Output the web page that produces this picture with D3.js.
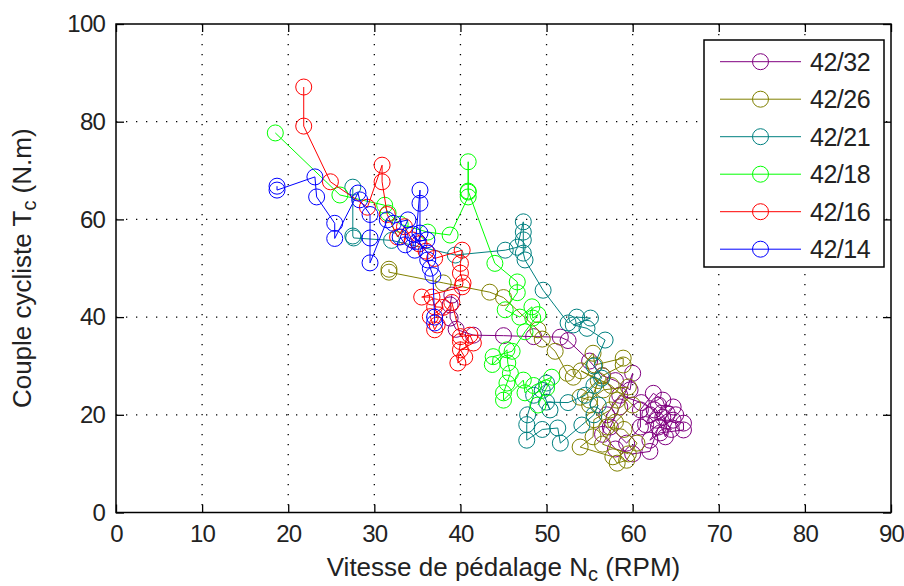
<!DOCTYPE html>
<html>
<head>
<meta charset="utf-8">
<script src="https://cdn.jsdelivr.net/npm/d3@7"></script>
<style>
  body { margin: 0; background: #fff; }
  svg text { font-family: 'Liberation Sans', Arial, sans-serif; fill: #222; }
</style>
</head>
<body>
<svg id="chart" width="904" height="586"></svg>
<script>
// series data: [rpm, torque] pairs
const s42_32 = [[39.0,44.5],[38.8,42.5],[38.8,39.8],[39.5,37.5],[41.5,36.3],[45,36.2],[48.5,36],[51.6,35.9],[52.5,35.2],[55,31],[56.5,28],[58,27],[59.7,25.1],[60,28.5],[58.5,21.6],[57.4,17.5],[59.3,14.2],[60.9,17.5],[60.9,21],[62.4,24.4],[63.5,23],[64,20.3],[62.8,18.9],[64.7,18.9],[65.9,18.3],[65.9,16.9],[63.2,16.3],[62,14.8],[64.7,21.6],[63,22],[62,20],[61.5,18],[63.5,19.5],[64.5,17],[63,17.5],[62,12.5],[60,12],[58,13],[56.5,16],[57,20],[58.5,24],[61,22.5],[62.5,21],[63.8,15.5],[65,20]];
const s42_26 = [[31.7,49.8],[31.7,49.2],[38,47],[43.4,45.1],[45,44],[49,37.4],[49.5,35.5],[51,33],[52.4,28.5],[53.1,27.7],[55.4,32.6],[55.6,30.2],[58.9,31.6],[58.9,30.2],[56.5,28],[53.9,23.6],[55,23],[56.6,25.1],[59.5,25.7],[58.2,23],[57.4,21],[55.5,19],[55.4,15.5],[53.9,13.4],[57.7,11.4],[58.2,10.1],[59.3,10.7],[60.5,14.2],[59,17],[57,17.5],[55,22],[56,27],[54,29],[57.5,26],[60,22],[58,18.5],[56.5,14],[59.5,12]];
const s42_21 = [[27.5,66.6],[27.5,56.6],[27.6,56.2],[32,55.7],[39.4,52.7],[45.2,53.7],[46.6,54.3],[47.3,59.5],[47.3,57.4],[47.3,55.8],[47.3,53.1],[47.5,51.7],[49.6,45.5],[52.5,38.8],[53.5,40],[55.1,39.8],[53.1,38.4],[54.7,37.7],[56.8,35.3],[55.5,30],[56.4,27.5],[55.5,26],[54.5,24],[52.5,22.5],[50,22.6],[50.4,21],[49.5,25],[50,26.5],[48.5,24],[47.8,20],[47.7,18],[47.7,14.8],[49.5,17],[51.3,17.3],[51.6,14.2],[54.1,17.9],[55.5,20],[56,22]];
const s42_18 = [[18.5,77.7],[26,65],[31.2,62.9],[31.6,61.3],[33,59],[36.2,57.4],[38.8,56.8],[40.9,64.6],[40.9,65.6],[40.9,71.8],[40.9,65.8],[44,51],[46.6,47.2],[46.6,45],[45.2,41.5],[46.9,40],[48.3,42.1],[48.4,39.8],[49,40.5],[47.5,37],[46,33],[43.8,31.9],[43.7,30.3],[45.4,33.3],[45.5,30.6],[45.8,28.5],[45.4,26.5],[45,24.5],[45,23],[47.3,27.1],[47.5,24.5],[48.5,26],[50.6,27.7],[50,25.5],[49,22]];
const s42_16 = [[21.8,87.1],[21.8,79.1],[24.9,67.7],[29.2,62.5],[30.9,71.1],[30.9,67.7],[31.5,61],[32.7,56.4],[33.5,58.5],[34.4,55.8],[35.2,55],[36,53.5],[37,52],[40.2,53.7],[40,51],[40,49],[40.3,47],[40.2,46.2],[35.5,44.1],[36.7,44.1],[37,42.1],[38,42],[36.5,40.1],[37,37.4],[37.3,38.4],[39,43],[40,36],[41.1,36.3],[41.5,34.7],[40,33.3],[40.5,31.8],[39.7,30.6],[40,35]];
const s42_14 = [[18.7,66.8],[18.7,66.0],[23.1,68.7],[23.3,64.6],[25.4,59.2],[25.4,56.1],[28.1,65.4],[28.3,64],[29.5,61],[29.5,56.2],[29.5,51.1],[31.5,59.9],[32.2,59.2],[33.9,59.9],[33,56.4],[33.6,54.8],[34.7,53.7],[35.3,66],[35.3,63.3],[35.3,57.2],[36.1,55.8],[35,55.5],[34.5,57],[36.2,53.1],[36.2,51.7],[36.5,50],[36.8,48.5],[37,40],[37,38.8]];

const seriesNames = ['42/32', '42/26', '42/21', '42/18', '42/16', '42/14'];
const seriesData = [s42_32, s42_26, s42_21, s42_18, s42_16, s42_14];
const seriesColors = ['#800080', '#808000', '#008080', '#00ff00', '#ff0000', '#0000ff'];
const xTicks = [0, 10, 20, 30, 40, 50, 60, 70, 80, 90];
const yTicks = [0, 20, 40, 60, 80, 100];

const margin = { left: 116, top: 24, right: 13, bottom: 73.5 };
const W = 904, H = 586;
const iw = W - margin.left - margin.right;
const ih = H - margin.top - margin.bottom;

const svg = d3.select('#chart');
const g = svg.append('g').attr('transform', `translate(${margin.left},${margin.top})`);

const x = d3.scaleLinear().domain([0, 90]).range([0, iw]);
const y = d3.scaleLinear().domain([0, 100]).range([ih, 0]);

// dotted grid
g.append('g').selectAll('line').data(xTicks.slice(1, -1)).join('line')
  .attr('x1', d => x(d)).attr('x2', d => x(d)).attr('y1', 0).attr('y2', ih)
  .attr('stroke', '#000').attr('stroke-width', 1.3).attr('stroke-dasharray', '1.3,8.7');
g.append('g').selectAll('line').data(yTicks.slice(1, -1)).join('line')
  .attr('y1', d => y(d)).attr('y2', d => y(d)).attr('x1', 0).attr('x2', iw)
  .attr('stroke', '#000').attr('stroke-width', 1.3).attr('stroke-dasharray', '1.3,8.7');

// axes (ticks inside, matlab style)
const fs = 24;
const xAxis = g.append('g').attr('transform', `translate(0,${ih})`)
  .call(d3.axisBottom(x).tickValues(xTicks).tickSizeInner(-8).tickSizeOuter(0).tickPadding(12));
const yAxis = g.append('g')
  .call(d3.axisLeft(y).tickValues(yTicks).tickSizeInner(-8).tickSizeOuter(0).tickPadding(11));
g.append('g').call(d3.axisTop(x).tickValues(xTicks).tickSizeInner(-8).tickSizeOuter(0).tickFormat(''));
g.append('g').attr('transform', `translate(${iw},0)`)
  .call(d3.axisRight(y).tickValues(yTicks).tickSizeInner(-8).tickSizeOuter(0).tickFormat(''));
svg.selectAll('.domain').remove();
svg.selectAll('.tick line').attr('stroke', '#000').attr('stroke-width', 1.3);
xAxis.selectAll('text').style('font-size', fs + 'px').style('letter-spacing', '-0.8px').attr('fill', '#222');
yAxis.selectAll('text').style('font-size', fs + 'px').style('letter-spacing', '-0.8px').attr('fill', '#222');

g.append('rect').attr('width', iw).attr('height', ih)
  .attr('fill', 'none').attr('stroke', '#000').attr('stroke-width', 1.5);

// series
const line = d3.line().x(d => x(d[0])).y(d => y(d[1]));
seriesData.forEach((data, i) => {
  const sg = g.append('g');
  sg.append('path').datum(data).attr('d', line)
    .attr('fill', 'none').attr('stroke', seriesColors[i]).attr('stroke-width', 1);
  sg.selectAll('circle').data(data).join('circle')
    .attr('cx', d => x(d[0])).attr('cy', d => y(d[1])).attr('r', 8)
    .attr('fill', 'none').attr('stroke', seriesColors[i]).attr('stroke-width', 1);
});

// legend
const lg = svg.append('g');
lg.append('rect').attr('x', 704).attr('y', 40).attr('width', 180).attr('height', 227)
  .attr('fill', '#fff').attr('stroke', '#000').attr('stroke-width', 1.5);
seriesNames.forEach((name, i) => {
  const ry = 61.7 + i * 37.5;
  lg.append('line').attr('x1', 720).attr('x2', 801).attr('y1', ry).attr('y2', ry)
    .attr('stroke', seriesColors[i]).attr('stroke-width', 1);
  lg.append('circle').attr('cx', 760.5).attr('cy', ry).attr('r', 8)
    .attr('fill', 'none').attr('stroke', seriesColors[i]).attr('stroke-width', 1);
  lg.append('text').attr('x', 810).attr('y', ry).attr('dy', '0.36em')
    .style('font-size', '25px').style('letter-spacing', '-0.5px').text(name);
});

// axis titles
const xt = svg.append('text').attr('x', margin.left + iw / 2).attr('y', 576)
  .attr('text-anchor', 'middle').style('font-size', '26px');
xt.append('tspan').text('Vitesse de pédalage N');
xt.append('tspan').attr('dy', 5).style('font-size', '20px').text('c');
xt.append('tspan').attr('dy', -5).text(' (RPM)');

const yt = svg.append('text')
  .attr('transform', `translate(31,${margin.top + ih / 2}) rotate(-90)`)
  .attr('text-anchor', 'middle').style('font-size', '26px');
yt.append('tspan').text('Couple cycliste T');
yt.append('tspan').attr('dy', 5).style('font-size', '20px').text('c');
yt.append('tspan').attr('dy', -5).text(' (N.m)');
</script>
</body>
</html>
